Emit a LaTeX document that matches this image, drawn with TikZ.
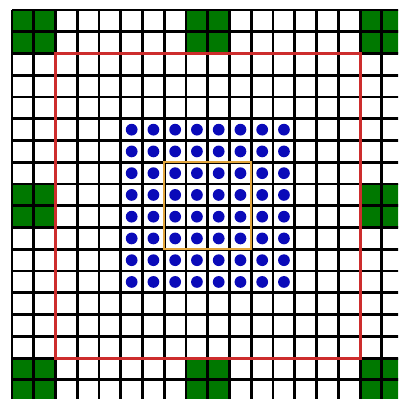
\documentclass[tikz,border=0pt]{standalone}
\usepackage{tikz}
\usepackage{xcolor}
\definecolor{cellgreen}{RGB}{0,120,0}
\definecolor{dotblue}{RGB}{10,10,185}
\definecolor{framered}{RGB}{205,45,45}
\definecolor{frameorange}{RGB}{225,165,60}
\begin{document}
\begin{tikzpicture}[x=0.6cm,y=0.6cm]
    % visible area
    \clip (-0.552,0.12) rectangle (17.75,18.46);
    \fill[white] (-0.552,0.12) rectangle (17.75,18.46);
    
    % green blocks
    \foreach \i/\j in {0/0,8/0,16/0,0/8,16/8,0/16,8/16,16/16}
        \fill[cellgreen] (\i,\j) rectangle ++(2,2);
    
    % cell grid
    \draw[line width=2.2pt, step=0.6cm] (0,0) grid (18,18);
    
    % blue dots
    \foreach \i in {5,...,12}
        \foreach \j in {5,...,12}
            \fill[dotblue] (\i+0.5,\j+0.5) circle (0.27);
    
    % frames
    \draw[framered, line width=2.4pt] (2,2) rectangle (16,16);
    \draw[frameorange, line width=1.5pt] (7,7) rectangle (11,11);
\end{tikzpicture}
\end{document}
